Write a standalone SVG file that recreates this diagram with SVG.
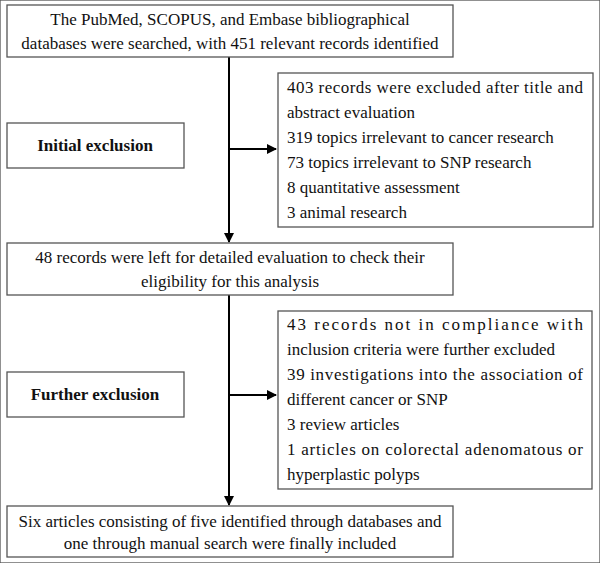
<svg xmlns="http://www.w3.org/2000/svg" width="600" height="563" viewBox="0 0 600 563">
<style>
text{font-family:"Liberation Serif","Times New Roman",serif;font-size:17px;fill:#111}
.c{text-anchor:middle}
.b{font-weight:bold}
rect{fill:#fff;stroke:#555;stroke-width:1.3}
.ln{stroke:#000;stroke-width:2;fill:none}
</style>
<defs>
<marker id="ah" viewBox="0 0 10 10" refX="9" refY="5" markerWidth="5" markerHeight="5" orient="auto" markerUnits="strokeWidth"><path d="M0,0 L10,5 L0,10 z" fill="#000"/></marker>
</defs>
<rect width="600" height="563" fill="#fff" stroke="none"/>
<g id="connectors">
<line class="ln" x1="229" y1="57" x2="229" y2="242" marker-end="url(#ah)"/>
<line class="ln" x1="229" y1="149" x2="276" y2="149" marker-end="url(#ah)"/>
<line class="ln" x1="229" y1="295" x2="229" y2="505" marker-end="url(#ah)"/>
<line class="ln" x1="229" y1="395" x2="276" y2="395" marker-end="url(#ah)"/>
</g>
<g id="n1">
<rect x="7" y="5" width="446" height="52"/>
<text class="c" x="230" y="25">The PubMed, SCOPUS, and Embase bibliographical</text>
<text class="c" x="230" y="49">databases were searched, with 451 relevant records identified</text>
</g>
<g id="initial">
<rect x="7" y="123" width="177" height="45"/>
<text class="c b" x="95" y="151">Initial exclusion</text>
</g>
<g id="excl1">
<rect x="278" y="73" width="315" height="154"/>
<text x="287" y="93" textLength="296" lengthAdjust="spacing">403 records were excluded after title and</text>
<text x="287" y="118">abstract evaluation</text>
<text x="287" y="143">319 topics irrelevant to cancer research</text>
<text x="287" y="168">73 topics irrelevant to SNP research</text>
<text x="287" y="193">8 quantitative assessment</text>
<text x="287" y="218">3 animal research</text>
</g>
<g id="n2">
<rect x="7" y="243" width="446" height="52"/>
<text class="c" x="230" y="263">48 records were left for detailed evaluation to check their</text>
<text class="c" x="230" y="287">eligibility for this analysis</text>
</g>
<g id="further">
<rect x="7" y="372" width="177" height="45"/>
<text class="c b" x="95" y="400">Further exclusion</text>
</g>
<g id="excl2">
<rect x="278" y="311" width="314" height="178"/>
<text x="287" y="330" textLength="296" lengthAdjust="spacing">43 records not in compliance with</text>
<text x="287" y="355">inclusion criteria were further excluded</text>
<text x="287" y="380" textLength="296" lengthAdjust="spacing">39 investigations into the association of</text>
<text x="287" y="405">different cancer or SNP</text>
<text x="287" y="430">3 review articles</text>
<text x="287" y="455" textLength="296" lengthAdjust="spacing">1 articles on colorectal adenomatous or</text>
<text x="287" y="480">hyperplastic polyps</text>
</g>
<g id="n3">
<rect x="7" y="506" width="446" height="51"/>
<text class="c" x="230" y="527">Six articles consisting of five identified through databases and</text>
<text class="c" x="230" y="549">one through manual search were finally included</text>
</g>
</svg>
